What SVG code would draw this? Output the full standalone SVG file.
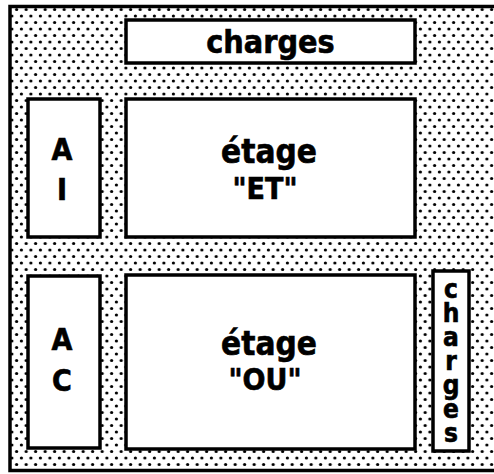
<svg xmlns="http://www.w3.org/2000/svg" width="494" height="474" viewBox="0 0 494 474">
<defs>
<pattern id="dots" x="0" y="0" width="9.5" height="13" patternUnits="userSpaceOnUse">
<rect width="9.5" height="13" fill="#fff"/>
<circle cx="2.4" cy="3" r="1.6" fill="#000"/>
<circle cx="7.15" cy="9.5" r="1.6" fill="#000"/>
</pattern>
<style>
.box{fill:#fff;stroke:#000;stroke-width:3.5}
.t{font-family:"DejaVu Sans",sans-serif;font-stretch:condensed;font-weight:bold;fill:#000;stroke:#000;stroke-width:0.6;text-anchor:middle}
</style>
</defs>
<rect id="frame" x="10" y="6.5" width="500" height="464" fill="url(#dots)" stroke="#000" stroke-width="3.5"/>
<g id="charges-top">
<rect class="box" x="126" y="20" width="289" height="43"/>
<text class="t" x="270.5" y="53" font-size="32">charges</text>
</g>
<g id="AI">
<rect class="box" x="28" y="99" width="72" height="138"/>
<text class="t" x="62" y="160" font-size="30">A</text>
<text class="t" x="62" y="200" font-size="30">I</text>
</g>
<g id="etage-ET">
<rect class="box" x="126" y="99" width="289" height="138"/>
<text class="t" x="269" y="163" font-size="33">étage</text>
<text class="t" x="265" y="199" font-size="30">"ET"</text>
</g>
<g id="AC">
<rect class="box" x="28" y="276" width="72" height="172"/>
<text class="t" x="62" y="350" font-size="30">A</text>
<text class="t" x="62" y="391" font-size="30">C</text>
</g>
<g id="etage-OU">
<rect class="box" x="126" y="275" width="289" height="174"/>
<text class="t" x="269" y="355" font-size="33">étage</text>
<text class="t" x="265" y="390" font-size="30">"OU"</text>
</g>
<g id="charges-vertical">
<rect class="box" x="433" y="271" width="36" height="180"/>
<text class="t" x="451" y="274" font-size="26" letter-spacing="-6" style="writing-mode:vertical-rl;text-orientation:upright;text-anchor:start">charges</text>
</g>
<g id="connectors"></g>
</svg>
